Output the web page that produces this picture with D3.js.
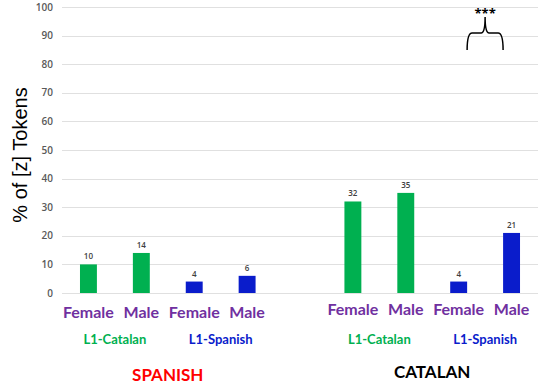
<!DOCTYPE html>
<html>
<head>
<meta charset="utf-8">
<script src="https://cdn.jsdelivr.net/npm/d3@7"></script>
<style>
  body { margin: 0; background: #fff; }
  svg { display: block; font-family: "Open Sans", "Liberation Sans", sans-serif; }
</style>
</head>
<body>
<svg id="chart" width="550" height="391"></svg>
<script>
// chart data
const languages = ["SPANISH", "CATALAN"];
const l1Groups = ["L1-Catalan", "L1-Spanish"];
const genders = ["Female", "Male"];
const spanishValues = [10, 14, 4, 6];
const catalanValues = [32, 35, 4, 21];
const yTicks = [0, 10, 20, 30, 40, 50, 60, 70, 80, 90, 100];

const l1Colors = { "L1-Catalan": "#00b050", "L1-Spanish": "#0a1ccb" };
const langColors = { "SPANISH": "#ff0000", "CATALAN": "#000000" };

// flatten into bars, one blank slot between languages
const bars = [];
const slots = [];
languages.forEach((lang, li) => {
    const vals = li === 0 ? spanishValues : catalanValues;
    l1Groups.forEach((g, gi) => {
        genders.forEach((s, si) => {
            const key = lang + "|" + g + "|" + s;
            slots.push(key);
            bars.push({ key, lang, group: g, gender: s, value: vals[gi * 2 + si] });
        });
    });
    if (li === 0) slots.push("gap");
});

const svg = d3.select("#chart");
const plotLeft = 62, plotRight = 538, plotTop = 7, plotBottom = 293;

const x = d3.scaleBand().domain(slots).range([plotLeft, plotRight]).paddingInner(0.68).paddingOuter(0.34);
const y = d3.scaleLinear().domain([0, 100]).range([plotBottom, plotTop]);

// gridlines + tick labels
svg.append("g").selectAll("line")
    .data(yTicks)
    .enter().append("line")
    .attr("x1", plotLeft).attr("x2", plotRight)
    .attr("y1", d => Math.round(y(d)) + 0.5)
    .attr("y2", d => Math.round(y(d)) + 0.5)
    .style("stroke", "#e0e0e0")
    .style("stroke-width", 1);

svg.append("g").selectAll("text")
    .data(yTicks)
    .enter().append("text")
    .attr("x", 53)
    .attr("y", d => y(d))
    .attr("dy", "0.35em")
    .attr("text-anchor", "end")
    .style("font-size", "10px")
    .style("font-weight", "600")
    .style("fill", "#595959")
    .text(d => d);

// axis title
svg.append("text")
    .attr("transform", "translate(27,155) rotate(-90)")
    .attr("text-anchor", "middle")
    .style("font-family", "'Liberation Sans', Arial, sans-serif")
    .style("font-size", "20px")
    .style("fill", "#000")
    .text("% of [z] Tokens");

// bars
svg.append("g").selectAll("rect")
    .data(bars)
    .enter().append("rect")
    .attr("x", d => x(d.key))
    .attr("y", d => y(d.value))
    .attr("width", x.bandwidth())
    .attr("height", d => y(0) - y(d.value))
    .style("fill", d => l1Colors[d.group]);

// value labels
svg.append("g").selectAll("text")
    .data(bars)
    .enter().append("text")
    .attr("x", d => x(d.key) + x.bandwidth() / 2)
    .attr("y", d => y(d.value) - 5)
    .attr("text-anchor", "middle")
    .style("font-size", "8px")
    .style("font-weight", "600")
    .style("fill", "#404040")
    .text(d => d.value);

// gender labels
svg.append("g").selectAll("text")
    .data(bars)
    .enter().append("text")
    .attr("x", d => x(d.key) + x.bandwidth() / 2)
    .attr("y", d => d.lang === "SPANISH" ? 318 : 315)
    .attr("text-anchor", "middle")
    .style("font-family", "Lato, sans-serif")
    .style("font-size", "16px")
    .style("font-weight", "bold")
    .style("fill", "#7030a0")
    .text(d => d.gender);

// L1 group labels
const groupLabels = [];
languages.forEach(lang => l1Groups.forEach(g => groupLabels.push({ lang, group: g })));
svg.append("g").selectAll("text")
    .data(groupLabels)
    .enter().append("text")
    .attr("x", d => {
        const a = x(d.lang + "|" + d.group + "|Female");
        const b = x(d.lang + "|" + d.group + "|Male");
        return (a + b) / 2 + x.bandwidth() / 2;
    })
    .attr("y", 344)
    .attr("text-anchor", "middle")
    .style("font-family", "Lato, sans-serif")
    .style("font-size", "13px")
    .style("font-weight", "bold")
    .style("fill", d => l1Colors[d.group])
    .text(d => d.group);

// language labels
svg.append("g").selectAll("text")
    .data(languages)
    .enter().append("text")
    .attr("x", d => {
        const a = x(d + "|L1-Catalan|Female");
        const b = x(d + "|L1-Spanish|Male");
        return (a + b) / 2 + x.bandwidth() / 2;
    })
    .attr("y", d => d === "SPANISH" ? 381 : 378)
    .attr("text-anchor", "middle")
    .style("font-family", "Lato, sans-serif")
    .style("font-size", "17px")
    .style("font-weight", "bold")
    .style("fill", d => langColors[d])
    .text(d => d);

// significance bracket over Catalan L1-Spanish
const bx1 = x("CATALAN|L1-Spanish|Female") + x.bandwidth();
const bx2 = x("CATALAN|L1-Spanish|Male");
const bm = (bx1 + bx2) / 2;
const bracket = d3.path();
bracket.moveTo(bx1, 50);
bracket.quadraticCurveTo(bx1, 33, bx1 + 5, 33);
bracket.lineTo(bm - 4, 33);
bracket.quadraticCurveTo(bm, 33, bm, 17);
bracket.quadraticCurveTo(bm, 33, bm + 4, 33);
bracket.lineTo(bx2 - 5, 33);
bracket.quadraticCurveTo(bx2, 33, bx2, 50);
svg.append("path")
    .attr("d", bracket.toString())
    .style("fill", "none")
    .style("stroke", "#000")
    .style("stroke-width", 1.5);

svg.append("text")
    .attr("x", bm)
    .attr("y", 18)
    .attr("text-anchor", "middle")
    .style("font-size", "13px")
    .style("font-weight", "bold")
    .style("fill", "#000")
    .text("***");
</script>
</body>
</html>
